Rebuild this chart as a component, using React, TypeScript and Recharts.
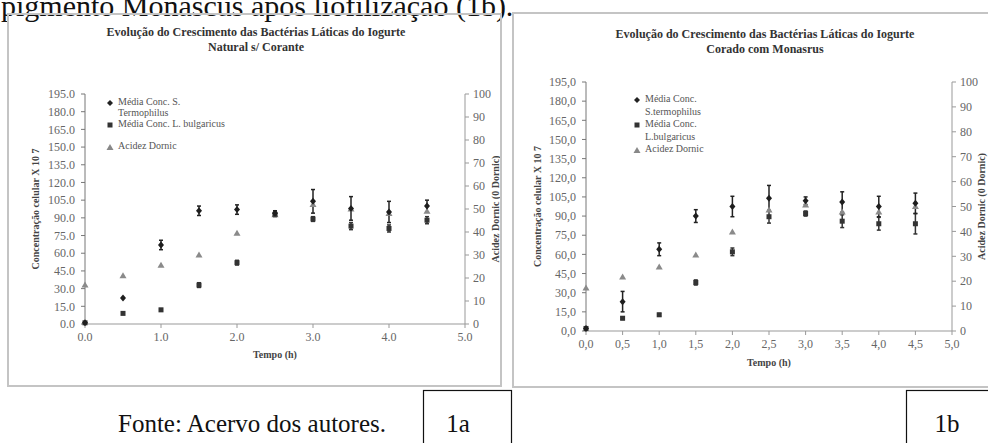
import React from "react";
import {
  ScatterChart,
  Scatter,
  XAxis,
  YAxis,
  ErrorBar,
} from "recharts";

// tempo (h)
const tempo = [0, 0.5, 1, 1.5, 2, 2.5, 3, 3.5, 4, 4.5];

// 1a - Natural s/ Corante
const sThermo1a = [1, 22, 67, 96, 97, 94, 104, 98, 95, 100];
const sThermoErr1a = [0, 0, 4, 4, 4, 2, 10, 10, 9, 5];
const lBulg1a = [1, 9, 12, 33, 52, 93, 89, 83, 81, 88];
const lBulgErr1a = [0, 0, 1, 2, 2, 2, 2, 3, 3, 3];
const acidez1a = [17, 21, 25.5, 30, 39.5, 47.5, 52, 50, 48, 49];

// 1b - Corado com Monasrus
const sThermo1b = [2, 23, 64, 90, 97.5, 104, 102, 101, 97.5, 100];
const sThermoErr1b = [0, 8, 5, 5, 8, 10, 3, 8, 8, 8];
const lBulg1b = [2, 10, 12.7, 38, 62, 89.5, 92, 86, 84, 84];
const lBulgErr1b = [0, 1, 1, 2, 3, 5, 2, 5, 5, 8];
const acidez1b = [17.3, 21.7, 25.7, 30.5, 39.8, 48.6, 50.6, 47.8, 47.8, 50];

const ticksConc = [0, 15, 30, 45, 60, 75, 90, 105, 120, 135, 150, 165, 180, 195];
const ticksAcidez = [0, 10, 20, 30, 40, 50, 60, 70, 80, 90, 100];
const ticksTempo1a = [0, 1, 2, 3, 4, 5];
const ticksTempo1b = [0, 0.5, 1, 1.5, 2, 2.5, 3, 3.5, 4, 4.5, 5];

const legend1a = ["Média Conc. S.|Termophilus", "Média Conc. L. bulgaricus", "", "Acidez Dornic"];
const legend1b = ["Média Conc.|S.termophilus", "Média Conc.|L.bulgaricus", "Acidez Dornic"];

const FONT = "'Liberation Serif', 'Times New Roman', serif";
const TICK = { fontSize: 12, fill: "#666", fontFamily: FONT };

const toPoints = (ys: number[], errs?: number[]) =>
  tempo.map((x, i) => ({ x, y: ys[i], err: errs ? errs[i] : 0 }));

// small marker shapes, drawn at the point given by recharts
const Diamond = (props: any) => {
  const { cx, cy } = props;
  return <path d={`M${cx} ${cy - 3.5} L${cx + 3} ${cy} L${cx} ${cy + 3.5} L${cx - 3} ${cy} Z`} fill="#1e1e1e" />;
};
const Square = (props: any) => {
  const { cx, cy } = props;
  return <rect x={cx - 2.5} y={cy - 2.5} width={5} height={5} fill="#333" />;
};
const Triangle = (props: any) => {
  const { cx, cy } = props;
  return <path d={`M${cx} ${cy - 3.5} L${cx + 3.5} ${cy + 2.5} L${cx - 3.5} ${cy + 2.5} Z`} fill="#8a8a8a" />;
};

function Marker({ kind }: { kind: string }) {
  return (
    <svg width={8} height={8} style={{ marginRight: 4, verticalAlign: "middle" }}>
      {kind === "diamond" && <path d="M4 1 L7 4 L4 7 L1 4 Z" fill="#222" />}
      {kind === "square" && <rect x={1.5} y={1.5} width={5} height={5} fill="#333" />}
      {kind === "triangle" && <path d="M4 1 L7.5 7 L0.5 7 Z" fill="#888" />}
    </svg>
  );
}

function Legend({ items, left, top, gap }: { items: string[]; left: number; top: number; gap: number }) {
  const kinds = ["diamond", "square", "triangle"];
  let k = 0;
  return (
    <div
      style={{
        position: "absolute",
        left,
        top,
        fontFamily: FONT,
        fontSize: 10,
        color: "#555",
        lineHeight: `${gap}px`,
      }}
    >
      {items.map((it, i) => {
        if (!it) return <div key={i} style={{ height: gap }} />;
        const kind = kinds[k++];
        const [a, b] = it.split("|");
        return (
          <div key={i}>
            <div>
              <Marker kind={kind} />
              {a}
            </div>
            {b && <div style={{ paddingLeft: 12 }}>{b}</div>}
          </div>
        );
      })}
    </div>
  );
}

function Title({ lines, cx, y1, y2 }: { lines: string[]; cx: number; y1: number; y2: number }) {
  return (
    <>
      {lines.map((l, i) => (
        <div
          key={i}
          style={{
            position: "absolute",
            left: cx - 250,
            width: 500,
            top: (i === 0 ? y1 : y2) - 8,
            textAlign: "center",
            fontFamily: FONT,
            fontWeight: "bold",
            fontSize: 12,
            color: "#333",
          }}
        >
          {l}
        </div>
      ))}
    </>
  );
}

type ChartProps = {
  frame: { left: number; top: number; width: number; height: number };
  margin: { top: number; right: number; bottom: number; left: number };
  leftW: number;
  rightW: number;
  leftLabelOffset: number;
  rightLabelOffset: number;
  xLabelOffset: number;
  xTicks: number[];
  comma: boolean;
  st: { x: number; y: number; err: number }[];
  lb: { x: number; y: number; err: number }[];
  ac: { x: number; y: number; err: number }[];
};

function GrowthChart(p: ChartProps) {
  const fmt = (v: number) => (p.comma ? v.toFixed(1).replace(".", ",") : v.toFixed(1));
  return (
    <div style={{ position: "absolute", ...p.frame }}>
      <ScatterChart width={p.frame.width} height={p.frame.height} margin={p.margin}>
        <XAxis
          type="number"
          dataKey="x"
          domain={[0, 5]}
          ticks={p.xTicks}
          tickFormatter={fmt}
          tick={TICK}
          tickSize={4}
          tickMargin={4}
          height={40}
          stroke="#999"
          label={{
            value: "Tempo (h)",
            position: "insideBottom",
            offset: p.xLabelOffset,
            style: { fontFamily: FONT, fontSize: 10, fontWeight: "bold", fill: "#444" },
          }}
        />
        <YAxis
          yAxisId="conc"
          type="number"
          dataKey="y"
          domain={[0, 195]}
          ticks={ticksConc}
          tickFormatter={fmt}
          tick={TICK}
          tickSize={4}
          tickMargin={6}
          width={p.leftW}
          stroke="#777"
          interval={0}
          label={{
            value: "Concentração celular X 10 7",
            angle: -90,
            position: "insideLeft",
            offset: p.leftLabelOffset,
            style: { textAnchor: "middle", fontFamily: FONT, fontSize: 10, fontWeight: "bold", fill: "#444" },
          }}
        />
        <YAxis
          yAxisId="acid"
          orientation="right"
          type="number"
          dataKey="y"
          domain={[0, 100]}
          ticks={ticksAcidez}
          tick={TICK}
          tickSize={4}
          tickMargin={4}
          width={p.rightW}
          stroke="#999"
          interval={0}
          label={{
            value: "Acidez Dornic (0 Dornic)",
            angle: -90,
            position: "insideRight",
            offset: p.rightLabelOffset,
            style: { textAnchor: "middle", fontFamily: FONT, fontSize: 10, fontWeight: "bold", fill: "#444" },
          }}
        />
        <Scatter
          name="Acidez Dornic"
          data={p.ac}
          yAxisId="acid"
          shape={Triangle}
          fill="#8a8a8a"
          isAnimationActive={false}
        />
        <Scatter
          name="Média Conc. L. bulgaricus"
          data={p.lb}
          yAxisId="conc"
          shape={Square}
          fill="#333"
          isAnimationActive={false}
        >
          <ErrorBar dataKey="err" direction="y" width={2} stroke="#333" strokeWidth={1.5} />
        </Scatter>
        <Scatter
          name="Média Conc. S. termophilus"
          data={p.st}
          yAxisId="conc"
          shape={Diamond}
          fill="#1e1e1e"
          isAnimationActive={false}
        >
          <ErrorBar dataKey="err" direction="y" width={2} stroke="#222" strokeWidth={1.5} />
        </Scatter>
      </ScatterChart>
      <div
        style={{
          position: "absolute",
          inset: 0,
          border: "2px solid #c4c4c4",
          pointerEvents: "none",
        }}
      />
    </div>
  );
}

export default function App() {
  return (
    <div
      style={{
        position: "absolute",
        left: 0,
        top: 0,
        width: 988,
        height: 443,
        overflow: "hidden",
        background: "#fff",
      }}
    >
      <svg width={988} height={443} style={{ position: "absolute", left: 0, top: 0 }}>
        <text x={1} y={16} fontFamily={FONT} fontSize={30} fill="#111">
          pigmento Monascus após liofilização (1b).
        </text>
        <text x={118} y={432} fontFamily={FONT} fontSize={25} fill="#111">
          Fonte: Acervo dos autores.
        </text>
        <rect x={423.5} y={390.5} width={88} height={70} fill="none" stroke="#111" strokeWidth={1.2} />
        <text x={458} y={432} textAnchor="middle" fontFamily={FONT} fontSize={25} fill="#111">
          1a
        </text>
        <rect x={906.5} y={390.5} width={100} height={70} fill="none" stroke="#111" strokeWidth={1.2} />
        <text x={947} y={432} textAnchor="middle" fontFamily={FONT} fontSize={25} fill="#111">
          1b
        </text>
      </svg>

      <GrowthChart
        frame={{ left: 7, top: 13, width: 495, height: 374 }}
        margin={{ top: 81, right: 2, bottom: 23, left: 8 }}
        leftW={70}
        rightW={35}
        leftLabelOffset={20}
        rightLabelOffset={5}
        xLabelOffset={6}
        xTicks={ticksTempo1a}
        comma={false}
        st={toPoints(sThermo1a, sThermoErr1a)}
        lb={toPoints(lBulg1a, lBulgErr1a)}
        ac={toPoints(acidez1a)}
      />
      <GrowthChart
        frame={{ left: 512, top: 12, width: 493, height: 376 }}
        margin={{ top: 70, right: 3, bottom: 17, left: 10 }}
        leftW={64}
        rightW={50}
        leftLabelOffset={15}
        rightLabelOffset={21}
        xLabelOffset={5}
        xTicks={ticksTempo1b}
        comma={true}
        st={toPoints(sThermo1b, sThermoErr1b)}
        lb={toPoints(lBulg1b, lBulgErr1b)}
        ac={toPoints(acidez1b)}
      />

      <Title
        lines={["Evolução do Crescimento das Bactérias Láticas do Iogurte", "Natural s/ Corante"]}
        cx={256}
        y1={33}
        y2={48}
      />
      <Title
        lines={["Evolução do Crescimento das Bactérias Láticas do Iogurte", "Corado com Monasrus"]}
        cx={765}
        y1={35}
        y2={50}
      />
      <Legend items={legend1a} left={106} top={96} gap={11} />
      <Legend items={legend1b} left={633} top={93} gap={12.5} />
    </div>
  );
}
